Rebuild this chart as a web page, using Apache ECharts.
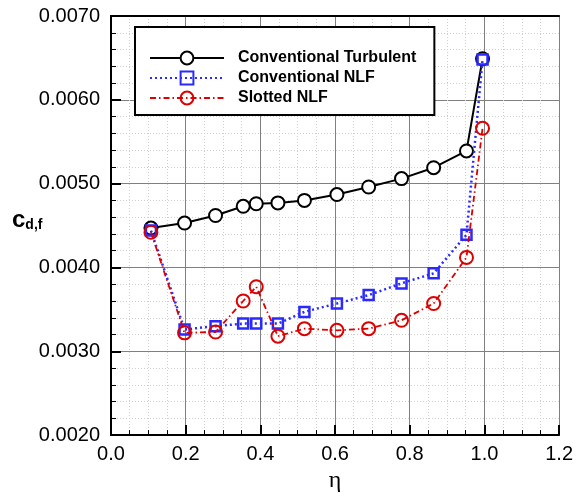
<!DOCTYPE html>
<html>
<head>
<meta charset="utf-8">
<script src="https://cdn.jsdelivr.net/npm/echarts@6/dist/echarts.min.js"></script>
<style>html,body{margin:0;padding:0;background:#fff}#c{width:576px;height:498px}</style>
</head>
<body>
<div id="c"></div>
<script>
var eta = [0.107, 0.197, 0.280, 0.354, 0.389, 0.447, 0.518, 0.605, 0.690, 0.778, 0.864, 0.952, 0.995];
var turbulent = [0.00447, 0.00453, 0.00462, 0.00473, 0.00476, 0.00477, 0.00480, 0.00487, 0.00496, 0.00506, 0.00519, 0.00539, 0.00649];
var convNLF = [0.00444, 0.00326, 0.00330, 0.00333, 0.00333, 0.00333, 0.00347, 0.00357, 0.00367, 0.00381, 0.00393, 0.00439, 0.00648];
var slottedNLF = [0.00442, 0.00322, 0.00323, 0.00360, 0.00377, 0.00318, 0.00327, 0.00325, 0.00327, 0.00337, 0.00357, 0.00412, 0.00566];
var seriesNames = ['Conventional Turbulent', 'Conventional NLF', 'Slotted NLF'];

function pairs(xs, ys) { return xs.map(function (x, i) { return [x, ys[i]]; }); }

var FONT = 'Liberation Sans';
var chart = echarts.init(document.getElementById('c'), null, {renderer: 'canvas'});
chart.setOption({
  animation: false,
  backgroundColor: '#fff',
  grid: {left: 111, right: 16, top: 16, bottom: 55, containLabel: false},
  legend: {
    orient: 'vertical', left: 135, top: 27,
    padding: [23, 18, 9, 14],
    itemWidth: 74, itemHeight: 16, itemGap: 4,
    backgroundColor: '#fff', borderColor: '#000', borderWidth: 2,
    textStyle: {fontFamily: FONT, fontWeight: 'bold', fontSize: 16, color: '#000', padding: [0, 0, 0, 9]},
    data: seriesNames
  },
  xAxis: [{
    type: 'value', min: 0, max: 1.2, interval: 0.2,
    axisLine: {show: true, onZero: false, lineStyle: {color: '#000', width: 2}},
    axisTick: {show: true, inside: true, length: 10, lineStyle: {color: '#000', width: 2}},
    minorTick: {show: true, splitNumber: 4, length: 5, lineStyle: {color: '#000', width: 1}},
    axisLabel: {fontFamily: FONT, fontSize: 20, color: '#000', margin: 9,
      formatter: function (v) { return v.toFixed(1); }},
    splitLine: {show: true, lineStyle: {color: '#808080', width: 1}},
    minorSplitLine: {show: true, lineStyle: {color: '#cfcfcf', width: 1, type: [1, 2]}},
    name: 'η', nameLocation: 'middle', nameGap: 30,
    nameTextStyle: {fontFamily: 'Liberation Serif', fontSize: 24, color: '#000'}
  }, {
    type: 'value', min: 0, max: 1.2, position: 'top',
    axisLine: {show: true, lineStyle: {color: '#000', width: 2}},
    axisTick: {show: false}, axisLabel: {show: false}, splitLine: {show: false}
  }],
  yAxis: [{
    type: 'value', min: 0.002, max: 0.007, interval: 0.001,
    axisLine: {show: true, onZero: false, lineStyle: {color: '#000', width: 2}},
    axisTick: {show: true, inside: true, length: 10, lineStyle: {color: '#000', width: 2}},
    minorTick: {show: true, splitNumber: 5, length: 5, lineStyle: {color: '#000', width: 1}},
    axisLabel: {fontFamily: FONT, fontSize: 20, color: '#000', margin: 11,
      formatter: function (v) { return v.toFixed(4); }},
    splitLine: {show: true, lineStyle: {color: '#808080', width: 1}},
    minorSplitLine: {show: true, lineStyle: {color: '#cfcfcf', width: 1, type: [1, 2]}}
  }, {
    type: 'value', min: 0.002, max: 0.007, position: 'right',
    axisLine: {show: true, lineStyle: {color: '#000', width: 2}},
    axisTick: {show: false}, axisLabel: {show: false}, splitLine: {show: false}
  }],
  graphic: [{
    type: 'text', left: 12, top: 208,
    style: {
      text: '{c|c}{s|d,f}',
      rich: {
        c: {fontFamily: FONT, fontWeight: 'bold', fontSize: 24, fill: '#000', verticalAlign: 'bottom'},
        s: {fontFamily: FONT, fontWeight: 'bold', fontSize: 14, fill: '#000', padding: [14, 0, 0, 0]}
      }
    }
  }],
  series: [{
    name: seriesNames[0], type: 'line', data: pairs(eta, turbulent),
    symbol: 'circle', symbolSize: 13, showAllSymbol: true,
    lineStyle: {color: '#000', width: 2, type: 'solid'},
    itemStyle: {color: '#fff', borderColor: '#000', borderWidth: 2},
    z: 3
  }, {
    name: seriesNames[1], type: 'line', data: pairs(eta, convNLF),
    symbol: 'rect', symbolSize: 10, showAllSymbol: true,
    lineStyle: {color: '#2a2aff', width: 2.5, type: [2, 3]},
    itemStyle: {color: 'rgba(255,255,255,0)', borderColor: '#2a2aff', borderWidth: 2.5},
    z: 4
  }, {
    name: seriesNames[2], type: 'line', data: pairs(eta, slottedNLF),
    symbol: 'circle', symbolSize: 13, showAllSymbol: true,
    lineStyle: {color: '#dd0000', width: 1.8, type: [6, 3, 1.5, 3]},
    itemStyle: {color: 'rgba(255,255,255,0)', borderColor: '#dd0000', borderWidth: 2},
    z: 5
  }]
});
</script>
</body>
</html>
